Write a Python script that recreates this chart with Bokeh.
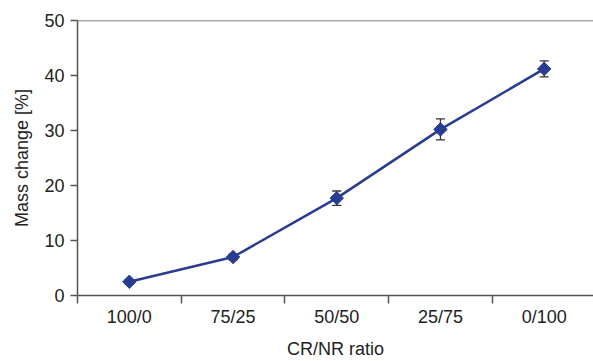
from bokeh.plotting import figure
from bokeh.models import Range1d, FixedTicker, Span, Whisker, ColumnDataSource, TeeHead
from bokeh.embed import file_html
from bokeh.resources import INLINE
import numpy as np

categories = ["100/0", "75/25", "50/50", "25/75", "0/100"]
mass_change = [2.5, 7.0, 17.7, 30.2, 41.2]
error = [0.4, 0.5, 1.3, 1.9, 1.45]
y_ticks = [0, 10, 20, 30, 40, 50]

x = np.arange(len(categories)) + 0.5
src = ColumnDataSource(dict(
    x=x, y=mass_change,
    lo=[m - e for m, e in zip(mass_change, error)],
    hi=[m + e for m, e in zip(mass_change, error)],
))

W, H = 593, 361
left, top, right = 77, 20, 0
frame_w = W - left - right
spacing = 103.7
p = figure(width=W, height=H, output_backend="svg", toolbar_location=None,
           x_range=Range1d(0, frame_w / spacing), y_range=Range1d(0, 50),
           min_border_left=left, min_border_top=top, min_border_right=right,
           min_border_bottom=H - top - 275)
p.outline_line_color = None
p.grid.grid_line_color = None
p.background_fill_color = "white"
p.border_fill_color = "white"

font = "Liberation Sans"
axis_col = "#555555"
txt_col = "#222222"

# x axis
p.xaxis.ticker = FixedTicker(ticks=list(x), minor_ticks=list(range(len(categories) + 1)))
p.xaxis.major_label_overrides = {float(xi): c for xi, c in zip(x, categories)}
p.xaxis.major_tick_out = 0
p.xaxis.major_tick_in = 0
p.xaxis.minor_tick_out = 8
p.xaxis.minor_tick_in = 0
p.xaxis.minor_tick_line_color = axis_col
p.xaxis.minor_tick_line_width = 1.5
p.xaxis.major_label_standoff = 3
p.xaxis.axis_label = "CR/NR ratio"
p.xaxis.axis_label_standoff = 9

# y axis
p.yaxis.ticker = FixedTicker(ticks=y_ticks)
p.yaxis.major_tick_out = 7
p.yaxis.major_tick_in = 0
p.yaxis.minor_tick_line_color = None
p.yaxis.major_label_standoff = 6
p.yaxis.axis_label = "Mass change [%]"
p.yaxis.axis_label_standoff = 9

for ax in (p.xaxis, p.yaxis):
    ax.axis_line_color = axis_col
    ax.axis_line_width = 1.5
    ax.major_tick_line_color = axis_col
    ax.major_tick_line_width = 1.5
    ax.major_label_text_font = font
    ax.major_label_text_font_size = "18px"
    ax.major_label_text_color = txt_col
    ax.axis_label_text_font = font
    ax.axis_label_text_font_size = "18px"
    ax.axis_label_text_font_style = "normal"
    ax.axis_label_text_color = txt_col

p.add_layout(Span(location=50, dimension="width", line_color=axis_col, line_width=1.5))

blue = "#283c91"
p.line("x", "y", source=src, line_color=blue, line_width=2.5)
p.add_layout(Whisker(source=src, base="x", lower="lo", upper="hi",
                     line_color="#333333", line_width=1.3,
                     upper_head=TeeHead(size=9, line_color="#333333", line_width=1.3),
                     lower_head=TeeHead(size=9, line_color="#333333", line_width=1.3)))
p.scatter("x", "y", source=src, marker="square", angle=np.pi / 4, size=9.5,
          fill_color=blue, line_color=blue)

open("out.html", "w").write(file_html(p, INLINE))
